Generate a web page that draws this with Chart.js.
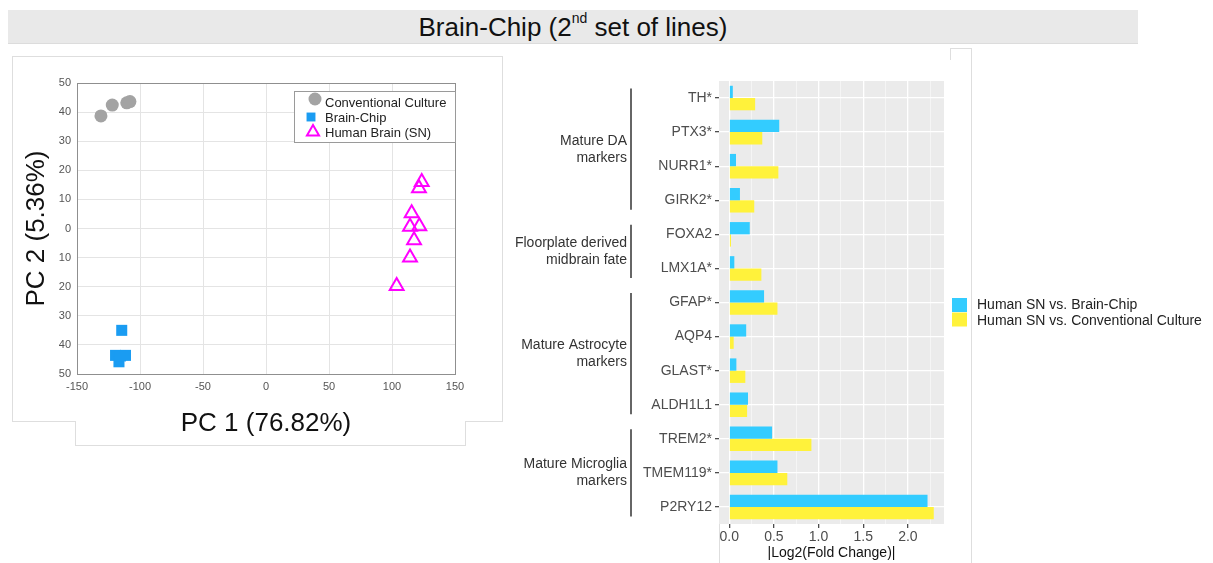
<!DOCTYPE html>
<html>
<head>
<meta charset="utf-8">
<script src="https://cdn.jsdelivr.net/npm/chart.js@4.4.1/dist/chart.umd.min.js"></script>
<style>
  html, body { margin:0; padding:0; background:#fff; }
  body { width:1213px; height:563px; position:relative; overflow:hidden; font-family:"Liberation Sans", Arial, sans-serif; }
  #titlebar { position:absolute; left:8px; top:10px; width:1130px; height:33px; background:#e9e9e9; border-bottom:1px solid #dcdcdc; }
  #titlebar div { position:absolute; left:0; right:0; top:3px; text-align:center; font-size:26px; line-height:28px; color:#111; }
  #titlebar sup { font-size:14px; position:relative; top:-2px; vertical-align:top; line-height:14px; }
  .ln { position:absolute; background:#dedede; }
  canvas { position:absolute; }
</style>
</head>
<body>
<div id="titlebar"><div>Brain-Chip (2<sup>nd</sup> set of lines)</div></div>

<!-- frame lines of the composite figure -->
<div class="ln" style="left:12px;top:56px;width:491px;height:1px;"></div>
<div class="ln" style="left:12px;top:56px;width:1px;height:366px;"></div>
<div class="ln" style="left:502px;top:56px;width:1px;height:366px;"></div>
<div class="ln" style="left:12px;top:421px;width:63px;height:1px;"></div>
<div class="ln" style="left:465px;top:421px;width:38px;height:1px;"></div>
<div class="ln" style="left:75px;top:421px;width:1px;height:25px;"></div>
<div class="ln" style="left:465px;top:421px;width:1px;height:25px;"></div>
<div class="ln" style="left:75px;top:445px;width:391px;height:1px;"></div>
<div class="ln" style="left:719px;top:82px;width:1px;height:481px;"></div>
<div class="ln" style="left:950px;top:48px;width:22px;height:1px;"></div>
<div class="ln" style="left:950px;top:48px;width:1px;height:12px;"></div>
<div class="ln" style="left:971px;top:48px;width:1px;height:515px;"></div>

<canvas id="pca" width="500" height="400" style="left:0px;top:55px;"></canvas>
<canvas id="bars" width="723" height="503" style="left:490px;top:60px;"></canvas>

<script>
// ---------- PCA scatter data ----------
const cultureX = [-131, -122, -110.5, -108];
const cultureY = [38.7, 42.4, 43.2, 43.6];
const chipX = [-114.5, -119.4, -111.5, -116.7, -115.5];
const chipY = [-35, -43.6, -43.6, -45.8, -43.8];
const brainX = [123.6, 121.4, 115.6, 114.3, 121.7, 117.5, 114.3, 103.7];
const brainY = [16, 13.8, 5.2, 0.6, 0.8, -4, -10, -19.8];
const pcaSeriesNames = ['Conventional Culture', 'Brain-Chip', 'Human Brain (SN)'];

// ---------- Fold-change bar data ----------
const genes = ['TH*','PTX3*','NURR1*','GIRK2*','FOXA2','LMX1A*','GFAP*','AQP4','GLAST*','ALDH1L1','TREM2*','TMEM119*','P2RY12'];
const vsBrainChip   = [0.04, 0.56, 0.076, 0.12, 0.23, 0.057, 0.39, 0.19, 0.08, 0.21, 0.48, 0.54, 2.22];
const vsConventional = [0.29, 0.37, 0.55, 0.28, 0.02, 0.36, 0.54, 0.05, 0.18, 0.20, 0.92, 0.65, 2.29];
const barSeriesNames = ['Human SN vs. Brain-Chip', 'Human SN vs. Conventional Culture'];
const groupNames = [['Mature DA','markers'], ['Floorplate derived','midbrain fate'], ['Mature Astrocyte','markers'], ['Mature Microglia','markers']];
const groupStart = [0, 4, 6, 10];
const groupEnd   = [3, 5, 9, 12];
const foldMajorTicks = [0, 0.5, 1, 1.5, 2];
const foldMinorTicks = [0.25, 0.75, 1.25, 1.75, 2.25];

const zip = (xs, ys) => xs.map((x, i) => ({x: x, y: ys[i]}));
const FONT = '"Liberation Sans", Arial, sans-serif';

// ---------- PCA chart ----------
const pcaStyles = [
  {pointStyle:'circle', radius:6.5, bg:'#a3a3a3', border:'#a3a3a3', bw:0},
  {pointStyle:'rect', radius:7.8, bg:'#1a9cf2', border:'#1a9cf2', bw:0},
  {pointStyle:'triangle', radius:8, bg:'rgba(0,0,0,0)', border:'#ff00ff', bw:2}
];
const pcaData = [zip(cultureX, cultureY), zip(chipX, chipY), zip(brainX, brainY)];

const boxPlugin = {
  id: 'box',
  afterDraw(chart) {
    const a = chart.chartArea, ctx = chart.ctx;
    ctx.save();
    ctx.strokeStyle = '#8f8f8f';
    ctx.lineWidth = 1;
    ctx.strokeRect(Math.round(a.left) + 0.5, Math.round(a.top) + 0.5, Math.round(a.right - a.left), Math.round(a.bottom - a.top));
    // inside legend
    const w = 161, h = 51;
    const lx = a.right - w, ly = a.top + 8;
    ctx.fillStyle = '#fff';
    ctx.fillRect(lx, ly, w, h);
    ctx.strokeStyle = '#9a9a9a';
    ctx.strokeRect(Math.round(lx) + 0.5, Math.round(ly) + 0.5, w, h);
    ctx.font = '13px ' + FONT;
    ctx.textBaseline = 'middle';
    ctx.textAlign = 'left';
    chart.data.datasets.forEach((ds, i) => {
      const yy = ly + 11 + i * 15;
      const mx = lx + 19 - (i === 0 ? -2 : (i === 1 ? 2 : 0));
      ctx.save();
      ctx.fillStyle = ds.backgroundColor;
      ctx.strokeStyle = ds.borderColor;
      ctx.lineWidth = ds.borderWidth;
      const r = i === 1 ? 6.3 : (i === 0 ? 6.5 : 7);
      Chart.helpers.drawPoint(ctx, {pointStyle: ds.pointStyle, radius: r, rotation: 0, borderWidth: ds.borderWidth}, mx, yy - (i === 0 ? 3 : 0));
      ctx.restore();
      ctx.fillStyle = '#222';
      ctx.fillText(ds.label, lx + 31, yy + 1);
    });
    ctx.restore();
  }
};

new Chart(document.getElementById('pca'), {
  type: 'scatter',
  data: {
    datasets: pcaData.map((d, i) => ({
      label: pcaSeriesNames[i],
      data: d,
      pointStyle: pcaStyles[i].pointStyle,
      pointRadius: pcaStyles[i].radius,
      pointHoverRadius: pcaStyles[i].radius,
      backgroundColor: pcaStyles[i].bg,
      borderColor: pcaStyles[i].border,
      borderWidth: pcaStyles[i].bw,
      pointBorderWidth: pcaStyles[i].bw
    }))
  },
  options: {
    responsive: false,
    animation: false,
    devicePixelRatio: 1,
    layout: { padding: { left: 0, right: 45, top: 28, bottom: 0 } },
    plugins: { legend: { display: false }, tooltip: { enabled: false } },
    scales: {
      x: {
        type: 'linear', min: -150, max: 150,
        ticks: { stepSize: 50, color: '#555', font: { size: 11, family: FONT }, padding: 6, maxRotation: 0 },
        grid: { color: '#e4e4e4', drawTicks: false },
        border: { display: false },
        title: { display: true, text: 'PC 1 (76.82%)', color: '#111', font: { size: 26, family: FONT }, padding: { top: 0, bottom: 16 } },
        afterFit(s) { s.height = 81; }
      },
      y: {
        type: 'linear', min: -50, max: 50,
        ticks: { stepSize: 10, color: '#555', font: { size: 11, family: FONT }, padding: 6, callback: v => String(Math.abs(v)) },
        grid: { color: '#e4e4e4', drawTicks: false },
        border: { display: false },
        title: { display: true, text: 'PC 2 (5.36%)', color: '#111', font: { size: 26, family: FONT }, padding: { top: 21, bottom: 0 } },
        afterFit(s) { s.width = 77; }
      }
    }
  },
  plugins: [boxPlugin]
});

// ---------- Bar chart ----------
const panelPlugin = {
  id: 'panel',
  beforeDraw(chart) {
    const a = chart.chartArea, ctx = chart.ctx;
    ctx.save();
    ctx.fillStyle = '#ebebeb';
    ctx.fillRect(a.left, a.top, a.right - a.left, a.bottom - a.top);
    ctx.restore();
  },
  afterDraw(chart) {
    const a = chart.chartArea, ctx = chart.ctx;
    const ys = chart.scales.y;
    const step = ys.getPixelForValue(1) - ys.getPixelForValue(0);
    ctx.save();
    // group brackets and labels
    const lineX = a.left - 88;
    groupNames.forEach((lines, g) => {
      const y0 = ys.getPixelForValue(groupStart[g]) - step * 0.28;
      const y1 = ys.getPixelForValue(groupEnd[g]) + step * 0.28;
      ctx.strokeStyle = '#666';
      ctx.lineWidth = 2;
      ctx.beginPath();
      ctx.moveTo(lineX, y0);
      ctx.lineTo(lineX, y1);
      ctx.stroke();
      const mid = (ys.getPixelForValue(groupStart[g]) + ys.getPixelForValue(groupEnd[g])) / 2;
      ctx.fillStyle = '#333';
      ctx.font = '14px ' + FONT;
      ctx.textAlign = 'right';
      ctx.textBaseline = 'middle';
      lines.forEach((t, k) => {
        ctx.fillText(t, lineX - 4, mid + (k - (lines.length - 1) / 2) * 17);
      });
    });
    // legend
    const lx = a.right + 8, ly = a.top + 217;
    chart.data.datasets.forEach((ds, i) => {
      ctx.fillStyle = ds.backgroundColor;
      ctx.fillRect(lx, ly + i * 14.5, 15, 14);
      ctx.fillStyle = '#222';
      ctx.font = '14px ' + FONT;
      ctx.textAlign = 'left';
      ctx.textBaseline = 'middle';
      ctx.fillText(ds.label, lx + 25, ly + 7.5 + i * 15.3);
    });
    ctx.restore();
  }
};

const isMajor = v => foldMajorTicks.some(m => Math.abs(m - v) < 1e-9);

new Chart(document.getElementById('bars'), {
  type: 'bar',
  data: {
    labels: genes,
    datasets: [
      { label: barSeriesNames[0], data: vsBrainChip, backgroundColor: '#33ccff', borderWidth: 0 },
      { label: barSeriesNames[1], data: vsConventional, backgroundColor: '#fff23b', borderWidth: 0 }
    ]
  },
  options: {
    indexAxis: 'y',
    responsive: false,
    animation: false,
    devicePixelRatio: 1,
    categoryPercentage: 0.72,
    barPercentage: 1.0,
    layout: { padding: { left: 0, right: 269, top: 21, bottom: 0 } },
    plugins: { legend: { display: false }, tooltip: { enabled: false } },
    scales: {
      x: {
        type: 'linear', min: -0.1145, max: 2.4045,
        afterBuildTicks(s) { s.ticks = foldMajorTicks.concat(foldMinorTicks).sort((a, b) => a - b).map(v => ({ value: v })); },
        ticks: { color: '#4d4d4d', font: { size: 14, family: FONT }, padding: 1, maxRotation: 0, autoSkip: false,
                 callback: v => isMajor(v) ? v.toFixed(1) : '' },
        grid: {
          color: c => isMajor(c.tick.value) ? '#ffffff' : 'rgba(255,255,255,0.75)',
          lineWidth: c => isMajor(c.tick.value) ? 1.3 : 0.7,
          tickColor: c => isMajor(c.tick.value) ? '#4d4d4d' : 'rgba(0,0,0,0)',
          tickLength: 4
        },
        border: { display: false },
        title: { display: true, text: '|Log2(Fold Change)|', color: '#111', font: { size: 14, family: FONT }, padding: { top: 0, bottom: 1 } },
        afterFit(s) { s.height = 39; }
      },
      y: {
        type: 'category',
        offset: true,
        ticks: { color: '#4d4d4d', font: { size: 14, family: FONT }, padding: 3, autoSkip: false },
        grid: { offset: false, color: '#ffffff', lineWidth: 1.3, tickColor: '#4d4d4d', tickLength: 4 },
        border: { display: false },
        afterFit(s) { s.width = 229; }
      }
    }
  },
  plugins: [panelPlugin]
});
</script>
</body>
</html>
